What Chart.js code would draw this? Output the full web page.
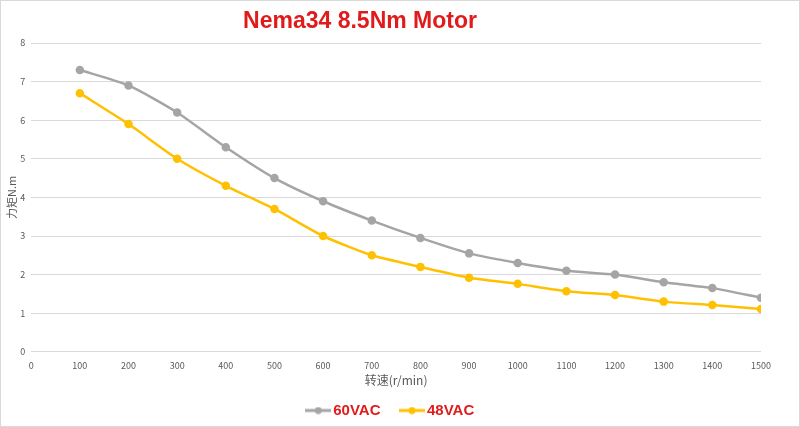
<!DOCTYPE html>
<html>
<head>
<meta charset="utf-8">
<script src="https://cdn.jsdelivr.net/npm/chart.js@4.4.1/dist/chart.umd.min.js"></script>
<style>
  html, body { margin: 0; padding: 0; background: #fff; }
  #wrap { width: 800px; height: 427px; box-sizing: border-box; border: 1px solid #d9d9d9; overflow: hidden; }
</style>
</head>
<body>
<div id="wrap"><canvas id="myChart"></canvas></div>
<script>
const SPEED = [100, 200, 300, 400, 500, 600, 700, 800, 900, 1000, 1100, 1200, 1300, 1400, 1500];
const TORQUE_60VAC = [7.3, 6.9, 6.2, 5.3, 4.5, 3.9, 3.4, 2.95, 2.55, 2.3, 2.1, 2.0, 1.8, 1.65, 1.4];
const TORQUE_48VAC = [6.7, 5.9, 5.0, 4.3, 3.7, 3.0, 2.5, 2.2, 1.92, 1.76, 1.57, 1.47, 1.3, 1.21, 1.11];

const TITLE = 'Nema34 8.5Nm Motor';
const GREY = '#a5a5a5';
const GOLD = '#ffc000';
const TEXT = '#595959';

function toPoints(ys) {
    return SPEED.map((x, i) => ({ x: x, y: ys[i] }));
}

// little legend sample: line with a dot in the middle
function legendIcon(color) {
    const c = document.createElement('canvas');
    c.width = 26; c.height = 8;
    const g = c.getContext('2d');
    g.strokeStyle = color;
    g.lineWidth = 3;
    g.beginPath(); g.moveTo(0, 4); g.lineTo(26, 4); g.stroke();
    g.fillStyle = color;
    g.beginPath(); g.arc(13, 4, 3.5, 0, Math.PI * 2); g.fill();
    return c;
}

const titlePlugin = {
    id: 'sideTitle',
    afterDraw(chart) {
        const g = chart.ctx;
        g.save();
        g.font = 'bold 23px "Liberation Sans", Arial, sans-serif';
        g.fillStyle = '#e01b1b';
        g.textAlign = 'center';
        g.textBaseline = 'middle';
        g.fillText(TITLE, 359, 21);
        g.restore();
    }
};

const ctx = document.getElementById('myChart');

window.myChart = new Chart(ctx, {
    type: 'line',
    data: {
        datasets: [{
            label: '60VAC',
            data: toPoints(TORQUE_60VAC),
            borderColor: GREY,
            backgroundColor: GREY,
            borderWidth: 2.5,
            pointRadius: 3,
            pointHoverRadius: 4,
            tension: 0.2
        }, {
            label: '48VAC',
            data: toPoints(TORQUE_48VAC),
            borderColor: GOLD,
            backgroundColor: GOLD,
            borderWidth: 2.5,
            pointRadius: 3,
            pointHoverRadius: 4,
            tension: 0.2
        }]
    },
    options: {
        responsive: true,
        maintainAspectRatio: false,
        animation: false,
        layout: { padding: { top: 42, right: 18, left: 3, bottom: -2 } },
        plugins: {
            title: { display: false },
            tooltip: { enabled: false },
            legend: {
                position: 'bottom',
                labels: {
                    usePointStyle: true,
                    padding: 24,
                    color: '#e01b1b',
                    font: { family: '"Liberation Sans", Arial, sans-serif', size: 15, weight: 'bold' },
                    generateLabels(chart) {
                        return chart.data.datasets.map((ds, i) => ({
                            text: ds.label,
                            pointStyle: legendIcon(ds.borderColor),
                            fontColor: '#e01b1b',
                            lineWidth: 0,
                            datasetIndex: i,
                            hidden: false
                        }));
                    }
                }
            }
        },
        scales: {
            x: {
                type: 'linear',
                min: 0,
                max: 1500,
                ticks: {
                    stepSize: 100,
                    color: TEXT,
                    maxRotation: 0,
                    padding: 0,
                    callback: v => String(v),
                    font: { family: '"Noto Sans CJK SC", sans-serif', size: 9 }
                },
                grid: { display: false },
                border: { display: false },
                title: {
                    display: true,
                    text: '转速(r/min)',
                    color: TEXT,
                    padding: { top: 3, bottom: -9 },
                    font: { family: '"Noto Sans CJK SC", sans-serif', size: 12 }
                }
            },
            y: {
                min: 0,
                max: 8,
                ticks: {
                    stepSize: 1,
                    color: TEXT,
                    padding: 6,
                    font: { family: '"Noto Sans CJK SC", sans-serif', size: 9 }
                },
                grid: { color: '#d9d9d9', drawTicks: false },
                border: { display: false },
                title: {
                    display: true,
                    text: '力矩N.m',
                    color: TEXT,
                    padding: { top: 1, bottom: -4 },
                    font: { family: '"Noto Sans CJK SC", sans-serif', size: 11 }
                }
            },
            // empty right-hand axis, only keeps a gap right of the plot
            spacer: {
                position: 'right',
                min: 0,
                max: 8,
                ticks: { display: false },
                grid: { display: false },
                border: { display: false },
                afterFit(scale) {
                    scale.width = 20;
                }
            }
        }
    },
    plugins: [titlePlugin]
});
</script>
</body>
</html>
